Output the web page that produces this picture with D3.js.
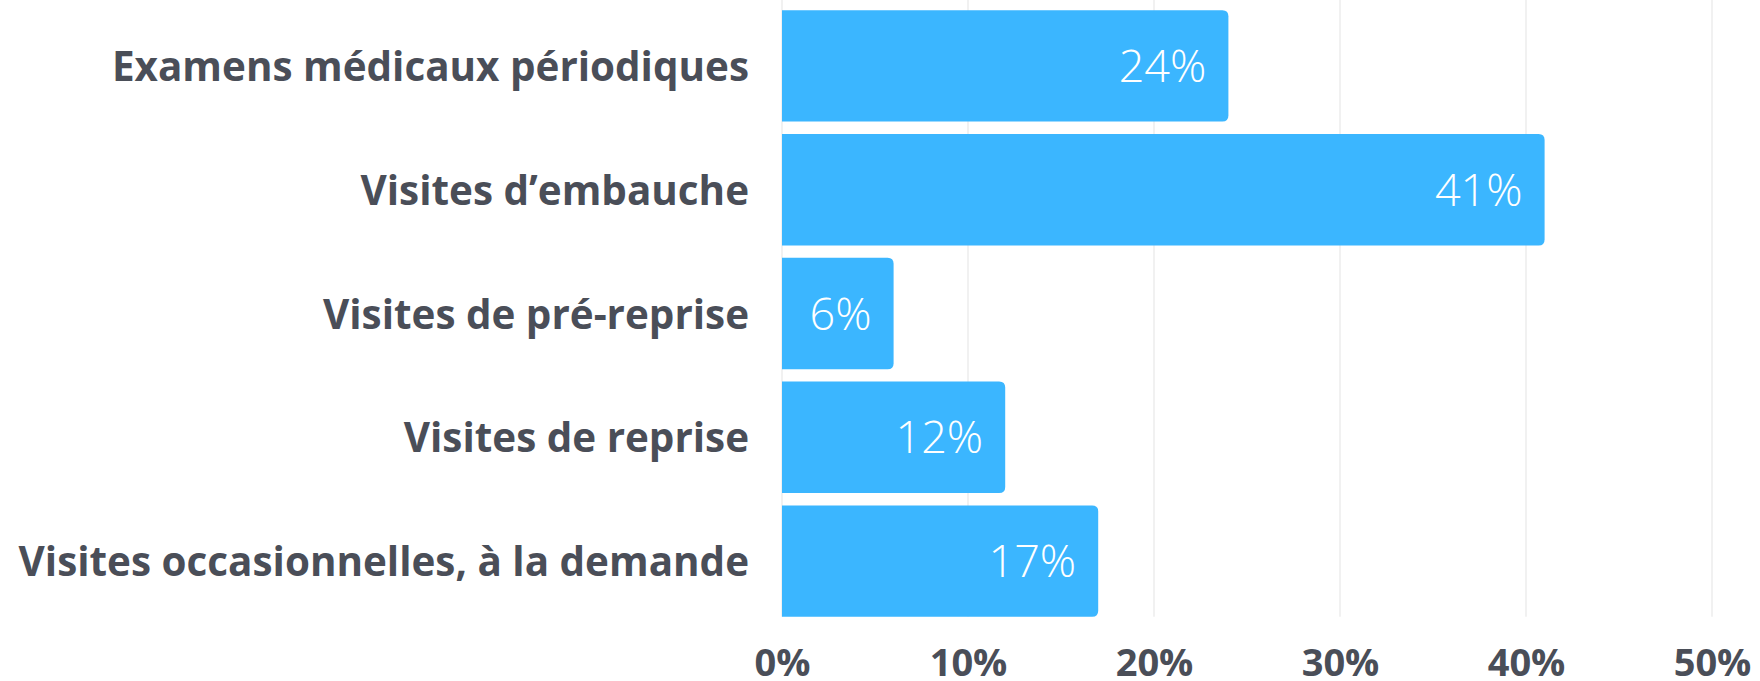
<!DOCTYPE html>
<html>
<head>
<meta charset="utf-8">
<script src="https://cdn.jsdelivr.net/npm/d3@7"></script>
<style>
  body { margin: 0; background: #fff; }
  svg { display: block; }
</style>
</head>
<body>
<div id="chart"></div>
<script>
var categories = ["Examens médicaux périodiques", "Visites d’embauche", "Visites de pré-reprise", "Visites de reprise", "Visites occasionnelles, à la demande"];
var values = [24, 41, 6, 12, 17];
var tickValues = [0, 10, 20, 30, 40, 50];

var width = 1760, height = 681;
var margin = {top: 4, right: 48, bottom: 58, left: 782};

var svg = d3.select('#chart')
    .append('svg')
    .attr('width', width)
    .attr('height', height);

var x = d3.scaleLinear()
    .domain([0, 50])
    .range([margin.left, width - margin.right]);

var y = d3.scaleBand()
    .domain(categories)
    .range([margin.top, height - margin.bottom])
    .paddingInner(0.1)
    .paddingOuter(0.05);

// gridlines
svg.append('g')
    .selectAll('line')
    .data(tickValues)
    .enter().append('line')
    .attr('x1', function(d){ return x(d); })
    .attr('x2', function(d){ return x(d); })
    .attr('y1', 0)
    .attr('y2', y(categories[categories.length-1]) + y.bandwidth())
    .attr('stroke', '#e8e8e8')
    .attr('stroke-width', 1.2);

// bars, rounded on the right only
var r = 6;
function barPath(d, i){
    var x0 = x(0), x1 = x(d), y0 = y(categories[i]), h = y.bandwidth();
    return 'M' + x0 + ',' + y0 +
        'H' + (x1 - r) +
        'Q' + x1 + ',' + y0 + ' ' + x1 + ',' + (y0 + r) +
        'V' + (y0 + h - r) +
        'Q' + x1 + ',' + (y0 + h) + ' ' + (x1 - r) + ',' + (y0 + h) +
        'H' + x0 + 'Z';
}
svg.append('g')
    .selectAll('path')
    .data(values)
    .enter().append('path')
    .attr('d', barPath)
    .attr('fill', '#3bb6ff');

// value labels
svg.append('g')
    .selectAll('text')
    .data(values)
    .enter().append('text')
    .attr('x', function(d){ return x(d) - 22; })
    .attr('y', function(d, i){ return y(categories[i]) + y.bandwidth()/2 + 16; })
    .attr('text-anchor', 'end')
    .attr('fill', '#fff')
    .style('font-family', '"Open Sans", sans-serif')
    .style('font-weight', 300)
    .style('font-size', '45px')
    .text(function(d){ return d + '%'; });

// category labels
svg.append('g')
    .selectAll('text')
    .data(categories)
    .enter().append('text')
    .attr('x', margin.left - 33)
    .attr('y', function(d){ return y(d) + y.bandwidth()/2 + 15; })
    .attr('text-anchor', 'end')
    .attr('fill', '#4a4e58')
    .style('font-family', '"Open Sans", sans-serif')
    .style('font-weight', 700)
    .style('font-size', '40.4px')
    .text(function(d){ return d; });

// x axis
var xAxis = svg.append('g')
    .attr('transform', 'translate(0,' + (height - 5) + ')')
    .call(d3.axisBottom(x)
        .tickValues(tickValues)
        .tickFormat(function(d){ return d + '%'; })
        .tickSize(0)
        .tickPadding(0));
xAxis.select('.domain').remove();
xAxis.selectAll('text')
    .attr('dy', 0)
    .attr('fill', '#4a4e58')
    .style('font-family', '"Open Sans", sans-serif')
    .style('font-weight', 700)
    .style('font-size', '38px');
</script>
</body>
</html>
